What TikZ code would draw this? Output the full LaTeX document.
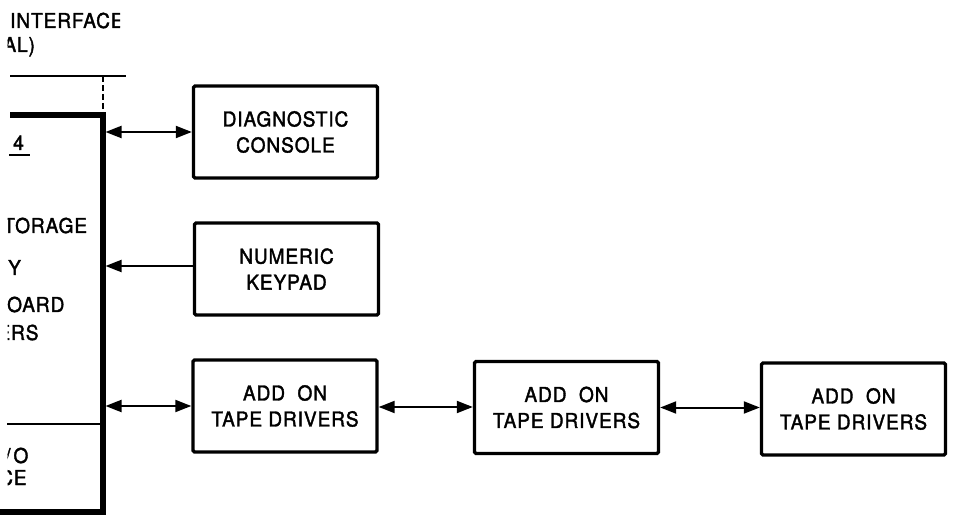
\documentclass[tikz,border=0pt]{standalone}
\usepackage{fontspec}
\setmainfont{TeX Gyre Heros}
\newfontface\lettering{TeX Gyre Heros}[FakeBold=1.8, FakeStretch=0.93, LetterSpace=4.5]
\usetikzlibrary{arrows.meta}
\tikzset{
  blk/.style={draw, line width=3.4pt, rounded corners=1.5pt, minimum width=184pt, minimum height=92pt,
    inner sep=0pt, align=center, font=\lettering\fontsize{20.5}{26}\selectfont},
  lbl/.style={inner sep=0pt, anchor=base west, font=\lettering\fontsize{20.5}{26}\selectfont},
  conn/.style={line width=2pt},
  tip/.style={-{Triangle[length=16pt,width=12pt]}},
  dtip/.style={{Triangle[length=16pt,width=12pt]}-{Triangle[length=16pt,width=12pt]}},
  busline/.style={line width=5.5pt, line join=miter},
}
\begin{document}
\begin{tikzpicture}[x=1pt,y=-1pt]
\useasboundingbox (0,0) rectangle (955,518);

% left framework
\draw[line width=1.5pt] (10,76) -- (126,76);
\draw[line width=1.5pt, dash pattern=on 6pt off 3pt] (103,76) -- (103,113);
\draw[busline] (10,115) -- (103,115) -- (103,512) -- (0,512);
\draw[line width=2.5pt] (7,424) -- (103,424);
\coordinate (bus) at (105.5,0);

% left texts (cut at the picture edge)
\begin{scope}
\clip (7.5,0) rectangle (120,518);
\node[lbl] (t1) at (10,28) {INTERFACE};
\node[lbl] (t2) at (3.3,52) {AL)};
\node[lbl] (t3) at (13,150) {4};
\node[lbl] (t4) at (3.2,233) {TORAGE};
\node[lbl] (t5) at (8,275) {Y};
\node[lbl] (t6) at (7,312) {OARD};
\node[lbl] (t7) at (-2.7,340) {ERS};
\node[lbl] (t8) at (5,463) {/\kern3pt O};
\node[lbl] (t9) at (-1,485) {CE};
\end{scope}
\draw[line width=1.5pt] (9,155) -- (30,155);

% blocks
\node[blk] (diag) at (285.5,132) {DIAGNOSTIC\\CONSOLE};
\node[blk] (kp) at (286.5,269) {NUMERIC\\KEYPAD};
\node[blk] (tp1) at (285,406) {ADD\ \ ON\\TAPE DRIVERS};
\node[blk] (tp2) at (566.5,407.5) {ADD\ \ ON\\TAPE DRIVERS};
\node[blk] (tp3) at (853.5,409) {ADD\ \ ON\\TAPE DRIVERS};

% connectors
\draw[conn,dtip] (diag.west -| bus) -- (diag.west);
\draw[conn,tip] ([yshift=3pt]kp.west) -- ([yshift=3pt]kp.west -| bus);
\draw[conn,dtip] (tp1.west -| bus) -- (tp1.west);
\draw[conn,dtip] ([yshift=-1pt]tp1.east) -- ([yshift=-1pt]tp1.east -| tp2.west);
\draw[conn,dtip] (tp2.east) -- (tp2.east -| tp3.west);
\end{tikzpicture}
\end{document}
